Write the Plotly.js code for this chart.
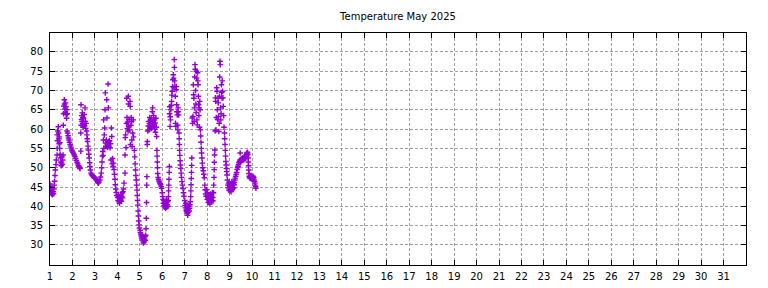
<!DOCTYPE html>
<html>
<head>
<meta charset="utf-8">
<script src="https://cdn.plot.ly/plotly-3.0.1.min.js"></script>
<style>html,body{margin:0;padding:0;background:#fff;}#chart{width:768px;height:288px;}</style>
</head>
<body>
<div id="chart"></div>
<script>
// Temperature readings, May 2025: hour of day and temperature (°F) per day
const may01_h = [0,0.3,0.6,1,1.5,2,2.5,3,3.5,3.8,4.2,4.5,4.9,5.3,5.7,6.4,6.7,7.5,7.7,7.8,8,8.3,8.9,9.2,9.5,9.8,10,10.4,10.6,10.8,11.2,11.6,12,12.4,12.8,13.2,13.6,14,14.2,14.5,14.8,15.3,15.6,16,16.3,16.6,17,17.3,17.7,18,18.4,18.2,18.8,19.3,19.8,20.3,20.9,21.5,22,22.6,23.2,23.7];
const may01_t = [45.8,45.2,44.5,44.0,43.5,43.2,43.0,43.4,43.8,43.3,44.5,45.5,46.5,48.0,49.4,50.8,52.0,53.3,55.0,58.5,57.0,59.5,60.6,59.0,57.5,56.2,58.0,55.0,56.5,53.5,52.5,51.5,50.5,51.2,52.8,50.8,52.0,53.3,61.0,64.0,66.0,67.6,66.5,65.2,64.3,66.8,65.8,63.8,62.8,65.0,64.0,59.5,59.0,58.3,57.7,57.2,56.6,56.0,55.6,55.1,54.6,54.3];
const may02_h = [0.5,1.2,1.9,2.7,3.4,4.1,4.9,5.6,6.4,7,7.6,8.1,8.9,8.9,9.1,9.3,9.6,9.9,10.2,10.5,10.8,11.1,11.4,11.8,12.2,12.6,13,13.4,13.8,14.2,14.6,15,15.5,15.9,16.1,16.6,17,17.5,17.9,18.4,18.7,19.2,19.8,20.5,21.2,22,22.7,23.4];
const may02_t = [54.0,53.7,53.3,52.9,52.4,51.9,51.4,51.0,50.6,50.3,50.0,49.8,54.3,59.0,66.3,61.0,62.5,63.5,62.0,64.2,61.5,63.0,60.5,62.8,61.2,63.8,60.8,65.5,62.0,60.2,61.5,59.5,58.5,57.5,56.8,55.6,54.6,53.5,52.5,51.3,50.3,49.4,48.6,48.2,48.0,47.8,47.6,47.4];
const may03_h = [0.3,1,1.8,2.5,3.1,3.7,4.3,5.2,6,6.8,7.2,7.6,8,8.4,8.8,9.1,9.3,9.6,10,10.4,10.8,11.1,11.4,11.8,12.2,12.6,12.9,13.3,13.7,14.1,14.4,14.8,15.2,15.7,16.2,16.7,17.2,17.6,18,18.4,18.9,19.4,19.9,20.4,20.9,21.4,21.8,22.3,22.8,23.3];
const may03_t = [47.3,47.1,46.8,46.5,46.2,46.0,46.3,46.8,47.6,48.6,50.0,51.5,53.0,54.2,53.2,57.2,62.4,55.0,58.5,60.3,65.0,69.4,56.4,55.5,57.2,67.6,62.9,56.0,55.3,71.7,65.5,56.8,55.6,57.0,55.2,56.2,52.0,60.3,58.1,51.0,52.4,50.3,51.2,49.5,48.3,47.0,45.6,44.5,43.6,42.8];
const may04_h = [0.3,0.8,1.3,1.8,2.3,2.8,3.3,3.8,4.3,4.8,5.3,5.7,6.1,6.6,7.1,8.2,8.2,8.5,8.8,9.3,9.8,10,10.3,10.6,11,11.4,11.7,11.9,12.2,12.6,13,13.5,13.7,14,14.4,14.8,15.3,15.5,15.8,16.3,17,17.3,18.2,18.6,19,19.4,19.8,20.2,20.6,21,21.3,21.6,21.9,22.2,22.5,22.8,23.2,23.6];
const may04_t = [42.3,41.5,42.8,41.2,40.8,42.0,41.6,43.0,41.3,42.5,43.5,42.2,43.8,44.5,46.0,48.6,53.3,57.8,58.5,55.2,61.5,68.0,63.0,60.2,61.8,59.5,68.5,66.5,60.7,62.5,59.8,67.2,65.9,56.0,61.0,63.0,62.0,57.2,55.5,59.0,62.4,58.0,54.5,52.8,51.0,49.4,48.0,46.8,45.5,44.2,42.8,41.5,40.3,38.8,37.5,36.2,35.2,34.4];
const may05_h = [0.3,0.7,1.1,1.5,1.9,2.3,2.7,3.1,3.5,3.9,4.3,4.7,5.1,5.5,5.9,6.3,6.6,6.9,7.2,7.4,7.6,7.9,8.1,8.5,9,9.4,9.8,10.2,10.6,11,11.4,11.8,12.2,12.6,13,13.4,13.7,14,14.4,14.8,15.2,15.6,16,16.4,16.8,17.2,17.6,18,18.3,18.5,18.7,18.9,19.1,19.5,20,20.5,21,21.6,22.2,22.8,23.4];
const may05_t = [33.8,33.2,32.8,32.3,31.8,32.5,31.3,32.0,31.0,30.5,31.8,30.8,31.5,32.2,31.2,32.5,34.2,36.9,41.0,45.5,47.7,56.0,56.8,59.5,60.8,62.0,59.8,61.5,63.0,60.5,62.3,61.0,62.9,60.2,61.8,64.5,65.5,62.0,60.8,63.5,61.2,62.4,60.0,61.6,59.2,62.8,60.5,58.1,54.5,53.0,51.5,50.0,48.5,47.5,47.0,46.6,46.3,45.9,45.6,45.1,44.7];
const may06_h = [0,0.4,0.8,1.2,1.6,2,2.4,2.8,3.2,3.6,4,4.4,4.8,5.2,5.6,6,6.4,6.6,6.8,7,7.2,7.4,7.6,7.8,8,8.3,8.5,8.8,9.2,9.6,10,10.3,10.6,11,11.4,11.8,12.1,12.5,12.8,13,13.3,13.6,13.9,14.2,14.5,14.8,15.1,15.4,15.7,16,16.3,16.6,16.9,17.2,17.5,17.9,18.1,18.3,18.5,18.8,19.1,19.4,19.8,20.2,20.6,21,21.6,22.2,22.7,23.2];
const may06_t = [43.5,42.5,41.8,40.8,41.5,40.2,39.8,41.0,40.0,39.5,40.6,41.8,39.8,40.4,41.2,40.0,41.5,42.5,44.0,45.5,47.0,48.8,50.3,64.0,65.8,60.7,63.2,62.4,65.0,66.2,67.2,68.8,69.8,71.0,72.8,74.1,73.2,70.8,78.0,76.0,72.5,71.0,68.5,61.5,60.7,70.2,71.0,66.3,64.5,63.7,61.0,59.8,65.5,64.5,63.7,59.0,57.5,56.0,54.5,53.2,51.8,50.7,49.8,48.6,47.5,46.4,45.5,44.6,43.5,42.6];
const may07_h = [0,0.4,0.8,1.2,1.6,2,2.4,2.8,3.2,3.6,4,4.4,4.8,5.2,5.6,6,6.4,6.6,6.8,7,7.2,7.4,7.6,8,8.4,8.8,9.2,9.5,9.8,10.1,10.4,10.7,11,11.3,11.6,11.9,12.2,12.5,12.8,13.1,13.4,13.7,14,14.3,14.6,14.9,15.2,15.5,15.8,16.1,16.4,16.8,17.1,17.4,17.7,18,18.4,18.8,19.2,19.8,20.4,21,21.5,21.9,22.4,22.9,23.4];
const may07_t = [41.5,40.2,39.6,40.8,39.0,38.6,39.8,38.2,37.7,39.2,38.5,40.0,38.8,39.5,40.4,41.2,42.5,44.0,45.6,47.2,48.8,50.6,52.5,62.9,61.5,63.3,71.5,68.9,68.0,62.0,65.5,73.5,76.7,75.5,70.0,66.5,64.3,75.0,73.2,62.4,61.1,74.6,72.5,71.5,68.5,66.3,63.5,65.5,60.5,67.2,65.0,59.8,58.2,56.6,55.0,53.8,52.5,51.2,50.0,49.2,48.3,47.4,45.5,44.3,43.2,42.6,44.3];
const may08_h = [0,0.4,0.8,1.2,1.6,2,2.4,2.8,3.2,3.6,4,4.4,4.8,5.2,5.6,6,6.4,6.8,7,7.3,7.5,7.7,7.9,8.2,8.5,8.8,9.1,9.4,9.8,10.2,10.5,10.8,11.2,11.6,11.9,12.2,12.5,12.8,13.1,13.4,13.7,14,14.3,14.6,14.9,15.2,15.5,15.8,16.1,16.5,16.9,17.2,17.6,18,18.5,18.8,19.1,19.4,19.7,20,20.3,20.6,20.9,21.2,21.6,22,22.4,22.8,23.2,23.6];
const may08_t = [41.8,43.5,42.2,41.0,43.0,41.6,42.8,40.6,41.8,43.2,42.0,41.2,42.6,41.5,43.6,42.3,41.4,43.5,45.5,47.5,49.5,51.4,53.3,54.6,59.5,68.1,67.2,59.8,63.0,70.7,69.8,65.0,62.5,68.0,66.8,63.3,59.4,61.5,68.5,73.5,77.6,76.7,65.5,62.4,64.0,71.5,69.5,68.1,72.5,69.8,68.1,65.9,63.5,60.5,59.0,57.5,56.0,54.5,53.0,51.6,50.7,49.8,49.0,48.1,46.8,45.5,44.8,46.0,44.2,45.5];
const may09_h = [0,0.4,0.8,1.2,1.6,2,2.4,2.8,3.2,3.6,4,4.4,4.8,5.2,5.6,6,6.5,7,7.5,8,8.5,9,9.5,10,10.5,11,11.3,11.5,12,12.5,13,13.5,14,14.5,15,15.5,16,16.5,17,17.5,18,18.4,18.8,19.2,19.5,19.8,20,20.2,20.4,20.7,21,21.4,21.8,22.2,22.6,23,23.4,23.8];
const may09_t = [45.0,44.0,45.8,44.5,43.8,45.2,46.4,44.3,45.5,44.6,45.9,44.8,45.6,46.2,46.8,47.3,47.8,48.3,48.8,49.5,50.0,50.4,50.8,51.3,51.6,52.0,53.8,51.5,51.9,52.3,51.8,52.4,52.1,52.6,52.0,52.8,52.3,53.0,52.5,53.2,52.9,53.8,53.3,54.0,53.5,52.5,51.5,50.5,49.4,48.5,47.8,47.4,47.7,47.2,47.9,47.4,47.6,47.1];
const may10_h = [0.2,0.6,1,1.4,1.8,2.2,2.6,3,3.4,3.8,4.1];
const may10_t = [47.6,47.1,47.8,47.3,47.5,46.8,46.4,46.0,45.5,45.1,44.7];

const dayHours = [may01_h,may02_h,may03_h,may04_h,may05_h,may06_h,may07_h,may08_h,may09_h,may10_h];
const dayTemps = [may01_t,may02_t,may03_t,may04_t,may05_t,may06_t,may07_t,may08_t,may09_t,may10_t];
const dayTicks = Array.from({length:31},(_,i)=>i+1);
const tempTicks = [30,35,40,45,50,55,60,65,70,75,80];

const xs = [], ys = [];
dayHours.forEach((hrs, d) => {
  hrs.forEach((h, i) => { xs.push(d + 1 + h / 24); ys.push(dayTemps[d][i]); });
});

const font = {family: 'DejaVu Sans, sans-serif', size: 10, color: '#000'};
const axisCommon = {
  showline: true, linecolor: '#000', linewidth: 1, mirror: 'allticks',
  ticks: 'inside', ticklen: 5, tickcolor: '#000', tickwidth: 1,
  showgrid: true, gridcolor: '#a0a0a0', gridwidth: 1, griddash: '3px,2px',
  zeroline: false, tickfont: font
};

Plotly.newPlot('chart', [{
  x: xs, y: ys, type: 'scatter', mode: 'markers',
  marker: {symbol: 'cross-thin', size: 4, color: '#9400d3', line: {color: '#9400d3', width: 1.4}},
  hoverinfo: 'skip'
}], {
  width: 768, height: 288,
  margin: {l: 50, r: 22, t: 33, b: 23},
  paper_bgcolor: '#fff', plot_bgcolor: '#fff',
  showlegend: false,
  font: font,
  title: {text: 'Temperature May 2025', font: font, x: 0.5, xref: 'paper', y: 1 - 16/288, yref: 'container', yanchor: 'middle'},
  xaxis: Object.assign({}, axisCommon, {range: [1, 32], tickvals: dayTicks, ticktext: dayTicks.map(String), ticklabelstandoff: 2}),
  yaxis: Object.assign({}, axisCommon, {range: [24.8, 84.9], tickvals: tempTicks, ticktext: tempTicks.map(String), ticklabelstandoff: 4})
}, {displayModeBar: false, staticPlot: true});
</script>
</body>
</html>
